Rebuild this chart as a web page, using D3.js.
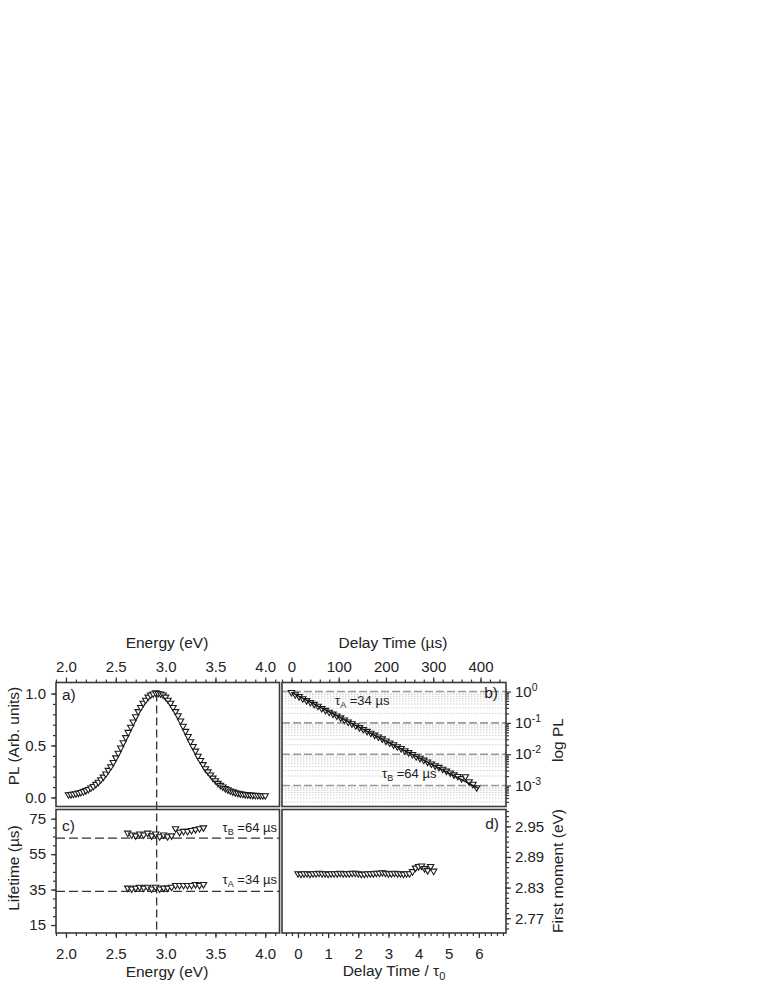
<!DOCTYPE html>
<html><head><meta charset="utf-8">
<script src="https://cdn.jsdelivr.net/npm/d3@7"></script>
<style>body{margin:0;background:#fff}</style>
</head><body><svg id="c" width="763" height="987"></svg>
<script>
// ---------- DATA ----------
const energyA = [2.025,2.05,2.075,2.1,2.125,2.15,2.175,2.2,2.225,2.25,2.275,2.3,2.325,2.35,2.375,2.4,2.425,2.45,2.475,2.5,2.525,2.55,2.575,2.6,2.625,2.65,2.675,2.7,2.725,2.75,2.775,2.8,2.825,2.85,2.875,2.9,2.925,2.95,2.975,3.0,3.025,3.05,3.075,3.1,3.125,3.15,3.175,3.2,3.225,3.25,3.275,3.3,3.325,3.35,3.375,3.4,3.425,3.45,3.475,3.5,3.525,3.55,3.575,3.6,3.625,3.65,3.675,3.7,3.725,3.75,3.775,3.8,3.825,3.85,3.875,3.9,3.925,3.95,3.975,4.0];
const plA = [0.02,0.022,0.026,0.03,0.036,0.042,0.05,0.06,0.071,0.085,
  0.10,0.12,0.14,0.165,0.19,0.22,0.255,0.29,0.33,0.375,
  0.42,0.47,0.52,0.57,0.62,0.67,0.72,0.77,0.82,0.86,
  0.90,0.93,0.96,0.98,0.99,1.0,0.995,0.99,0.98,0.96,
  0.93,0.90,0.86,0.82,0.78,0.73,0.68,0.63,0.58,0.53,
  0.485,0.44,0.39,0.35,0.31,0.27,0.24,0.21,0.18,0.155,
  0.13,0.11,0.095,0.08,0.068,0.057,0.048,0.04,0.034,0.029,
  0.025,0.022,0.019,0.017,0.015,0.014,0.013,0.012,0.011,0.011];
const peakEnergy = 2.91;

const delayB = [0,8,16,24,32,40,48,56,64,72,80,88,96,104,112,120,128,136,144,152,160,168,176,184,192,200,208,216,224,232,240,248,256,264,272,280,288,296,304,312,320,328,336,344,352,360,368,376,384,392];
const logPLB = [-0.05,-0.12,-0.18,-0.25,-0.31,-0.37,-0.43,-0.49,-0.56,-0.62,
  -0.68,-0.74,-0.80,-0.86,-0.93,-0.99,-1.05,-1.11,-1.17,-1.23,
  -1.29,-1.35,-1.41,-1.47,-1.53,-1.60,-1.66,-1.72,-1.78,-1.84,
  -1.91,-1.97,-2.03,-2.10,-2.15,-2.21,-2.27,-2.33,-2.39,-2.44,
  -2.50,-2.56,-2.62,-2.68,-2.73,-2.80,-2.74,-2.90,-2.98,-3.09];
const fitDelayB = [0, 200, 395];
const fitLogB = [-0.03, -1.58, -3.08];

const energyC = [2.62,2.66,2.70,2.74,2.78,2.82,2.86,2.90,2.94,2.98,3.02,3.06,3.10,3.14,3.18,3.22,3.26,3.30,3.34,3.38];
const tauBC = [66.5,65.5,65,66,65.5,66.5,65,66,64.5,65.5,64.5,65,69,67,67.5,67.5,68,68.5,69,69.5];
const tauAC = [35.5,35,35.5,36,35.5,36,35,36,35,35.5,35.5,36,37,37,37,37,37,37.5,37,37.5];
const tauALevel = 34, tauBLevel = 64;

const delayD = [0,0.1,0.2,0.3,0.4,0.5,0.6,0.7,0.8,0.9,1.0,1.1,1.2,1.3,1.4,1.5,1.6,1.7,1.8,1.9,2.0,2.1,2.2,2.3,2.4,2.5,2.6,2.7,2.8,2.9,3.0,3.1,3.2,3.3,3.4,3.5,3.6,3.7,3.8,3.9,4.0,4.1,4.2,4.3,4.4,4.5];
const momentD = [2.856,2.855,2.856,2.856,2.855,2.856,2.856,2.857,2.856,2.856,
  2.855,2.856,2.856,2.856,2.857,2.856,2.856,2.856,2.857,2.857,
  2.856,2.855,2.855,2.856,2.856,2.856,2.857,2.857,2.858,2.857,
  2.856,2.856,2.857,2.856,2.856,2.855,2.856,2.856,
  2.860,2.867,2.870,2.871,2.866,2.862,2.870,2.861];

const ticksAX = [2.0,2.5,3.0,3.5,4.0];
const ticksAY = [0.0,0.5,1.0];
const ticksCY = [15,35,55,75];
const ticksBX = [0,100,200,300,400];
const ticksBY = [1,0.1,0.01,0.001];
const ticksBYexp = ["0","-1","-2","-3"];
const ticksDX = [0,1,2,3,4,5,6];
const ticksDY = [2.77,2.83,2.89,2.95];

// ---------- LAYOUT ----------
const FONT = '"Liberation Sans", Arial, Helvetica, sans-serif';
const TICK_FS = 15, TITLE_FS = 15.5;
const svg = d3.select("#c");
const PA = {x0:56, x1:279.5, y0:682.5, y1:806.5};
const PC = {x0:56, x1:279.5, y0:809.5, y1:933};
const PB = {x0:282, x1:506, y0:682.5, y1:806.5};
const PD = {x0:282, x1:506, y0:809.5, y1:933};

const xA = d3.scaleLinear().domain([1.9, 4.143]).range([PA.x0, PA.x1]);
const yA = d3.scaleLinear().domain([-0.087, 1.106]).range([PA.y1, PA.y0]);
const yC = d3.scaleLinear().domain([10.5, 80.2]).range([PC.y1, PC.y0]);
const xB = d3.scaleLinear().domain([-20, 454]).range([PB.x0, PB.x1]);
const yB = d3.scaleLog().domain([2.14e-4, 1.94]).range([PB.y1, PB.y0]);
const xD = d3.scaleLinear().domain([-0.53, 6.9]).range([PD.x0, PD.x1]);
const yD = d3.scaleLinear().domain([2.741, 2.983]).range([PD.y1, PD.y0]);

function drawAxis(orient, scale, pos, majors, minors, fmt, pad){
  const mk = {top:d3.axisTop,bottom:d3.axisBottom,left:d3.axisLeft,right:d3.axisRight}[orient];
  const tr = (orient==="top"||orient==="bottom") ? `translate(0,${pos})` : `translate(${pos},0)`;
  const gm = svg.append("g").attr("transform",tr).call(mk(scale).tickValues(minors).tickSize(3).tickFormat(""));
  const g = svg.append("g").attr("transform",tr).call(mk(scale).tickValues(majors).tickSize(5).tickPadding(pad).tickFormat(fmt));
  [gm,g].forEach(s=>{s.select(".domain").remove(); s.selectAll("line").attr("stroke","#333").attr("stroke-width",1.2);});
  g.selectAll("text").attr("font-family",FONT).attr("font-size",TICK_FS).attr("fill","#222");
  return g;
}

// ---------- GRID in b ----------
const gGrid = svg.append("g");
const minorLog = [];
[-4,-3,-2,-1,0].forEach(n=>{ for(let k=2;k<=9;k++){ const v=k*Math.pow(10,n); if(v>2.14e-4 && v<1.94) minorLog.push(v);} });
gGrid.selectAll(".mn").data(minorLog).enter().append("line")
  .attr("x1",PB.x0).attr("x2",PB.x1).attr("y1",d=>yB(d)).attr("y2",d=>yB(d))
  .attr("stroke","#c4c4c4").attr("stroke-width",0.8).attr("stroke-dasharray","1.5,1.5");
gGrid.selectAll(".mj").data(ticksBY).enter().append("line")
  .attr("x1",PB.x0).attr("x2",PB.x1).attr("y1",d=>yB(d)).attr("y2",d=>yB(d))
  .attr("stroke","#9a9a9a").attr("stroke-width",1.6).attr("stroke-dasharray","8,3");

// ---------- reference lines ----------
svg.append("line").attr("x1",xA(peakEnergy)).attr("x2",xA(peakEnergy))
  .attr("y1",yA(1.0)).attr("y2",PC.y1)
  .attr("stroke","#333").attr("stroke-width",1.3).attr("stroke-dasharray","8,4");
[tauBLevel,tauALevel].forEach(v=>{
  svg.append("line").attr("x1",PC.x0).attr("x2",PC.x1).attr("y1",yC(v)).attr("y2",yC(v))
    .attr("stroke","#333").attr("stroke-width",1.3).attr("stroke-dasharray","9,4");
});

// ---------- markers ----------
const tri = "M-3.2,-2.6L3.2,-2.6L0,2.9Z";
function markers(xs, ys, sx, sy){
  svg.append("g").selectAll("path").data(xs).enter().append("path")
    .attr("d",tri)
    .attr("transform",(d,i)=>`translate(${sx(d)},${sy(ys[i])})`)
    .attr("fill","#fff").attr("stroke","#1a1a1a").attr("stroke-width",1.1);
}
markers(energyA, plA, xA, yA);
markers(energyC, tauBC, xA, yC);
markers(energyC, tauAC, xA, yC);
markers(delayB, logPLB.map(v=>Math.pow(10,v)), xB, yB);
markers(delayD, momentD, xD, yD);

// fit line in b
svg.append("path").datum(fitDelayB)
  .attr("d", d3.line().x(d=>xB(d)).y((d,i)=>yB(Math.pow(10,fitLogB[i]))))
  .attr("fill","none").attr("stroke","#111").attr("stroke-width",1.4);

// ---------- axes ----------
const r = (a,b,s,div)=>d3.range(a,b,s).map(d=>d/div);
drawAxis("top", xA, PA.y0, ticksAX, r(19,42,1,10), d3.format(".1f"), 6);
drawAxis("bottom", xA, PC.y1, ticksAX, r(19,42,1,10), d3.format(".1f"), 10);
drawAxis("left", yA, PA.x0, ticksAY, r(0,11,1,10), d3.format(".1f"), 5);
drawAxis("left", yC, PC.x0, ticksCY, d3.range(15,80,5), d3.format("d"), 5);
drawAxis("top", xB, PB.y0, ticksBX, d3.range(-20,460,20), d3.format("d"), 6);
drawAxis("right", yB, PB.x1, ticksBY, minorLog, ()=> "", 4);
drawAxis("bottom", xD, PD.y1, ticksDX, r(-2,35,1,5), d3.format("d"), 10);
drawAxis("right", yD, PD.x1, ticksDY, r(275,299,1,100), d3.format(".2f"), 4);

// log tick labels with superscripts
ticksBY.forEach((v,i)=>{
  const t = svg.append("text").attr("x",PB.x1+9).attr("y",yB(v)+5)
    .attr("font-family",FONT).attr("font-size",TICK_FS).attr("fill","#222");
  t.append("tspan").text("10");
  t.append("tspan").attr("dy",-6).attr("font-size",10.5).text(ticksBYexp[i]);
});

// ---------- panel borders ----------
[PA,PC,PB,PD].forEach(p=>{
  svg.append("rect").attr("x",p.x0).attr("y",p.y0).attr("width",p.x1-p.x0).attr("height",p.y1-p.y0)
    .attr("fill","none").attr("stroke","#3a3a3a").attr("stroke-width",1.6);
});

// ---------- text ----------
function txt(x,y,s,opts={}){
  const t = svg.append("text").attr("x",x).attr("y",y).attr("font-family",FONT)
    .attr("font-size",opts.size||TITLE_FS).attr("fill","#222").attr("text-anchor",opts.anchor||"start").text(s);
  if(opts.rot) t.attr("transform",`rotate(-90,${x},${y})`);
  return t;
}
txt(167,648,"Energy (eV)",{anchor:"middle"});
txt(393,648,"Delay Time (\u00b5s)",{anchor:"middle"});
txt(167,977,"Energy (eV)",{anchor:"middle"});
const dl = txt(394,976,"Delay Time / \u03c4",{anchor:"middle"});
dl.append("tspan").attr("dy",4).attr("font-size",11).text("0");
txt(19,736,"PL (Arb. units)",{anchor:"middle",rot:true});
txt(19,868,"Lifetime (\u00b5s)",{anchor:"middle",rot:true});
txt(563,740,"log PL",{anchor:"middle",rot:true});
txt(563,871,"First moment (eV)",{anchor:"middle",rot:true});

txt(62,700,"a)");
txt(62,831,"c)");
txt(498,698,"b)",{anchor:"end"});
txt(499,829,"d)",{anchor:"end"});

function tauLabel(x,y,sub,rest,anchor){
  const t = svg.append("text").attr("x",x).attr("y",y).attr("font-family",FONT)
    .attr("font-size",13).attr("fill","#222").attr("text-anchor",anchor||"start");
  t.append("tspan").text("\u03c4");
  t.append("tspan").attr("dy",3).attr("font-size",9).text(sub);
  t.append("tspan").attr("dy",-3).text(" =" + rest);
}
tauLabel(335,705,"A","34 \u00b5s");
tauLabel(382,778,"B","64 \u00b5s");
tauLabel(277,832,"B","64 \u00b5s","end");
tauLabel(277,884,"A","34 \u00b5s","end");
</script></body></html>
